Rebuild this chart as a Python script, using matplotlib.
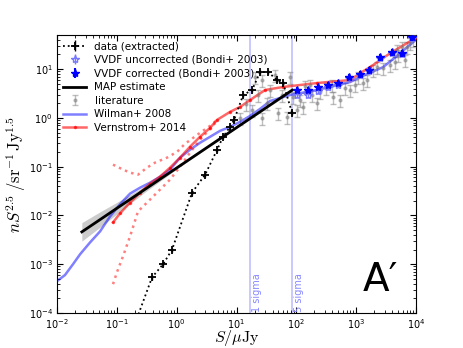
import matplotlib
matplotlib.use("Agg")
import matplotlib.pyplot as plt
import numpy as np

# ---------------- data ----------------
data_x = [0.19, 0.388, 0.593, 0.838, 1.81, 2.99, 4.74, 5.97, 7.82, 9.12, 12.9, 18.2, 24.8, 33.7, 47.7, 60.1, 85.1]
data_y = [5.0e-5, 5.4e-4, 1.0e-3, 2.0e-3, 0.0294, 0.0687, 0.222, 0.41, 0.655, 0.91, 2.94, 3.73, 8.7, 8.7, 5.97, 5.18, 1.26]

vvdf_x = [103, 157, 232, 340, 500, 764, 1167, 1648, 2518, 3998, 5875, 8630]
vvdf_corr = [3.73, 3.73, 4.30, 4.71, 5.18, 6.87, 7.91, 9.54, 17.6, 22.2, 21.2, 45.0]
vvdf_unc = [2.95, 2.95, 3.5, 4.2, 4.8, 6.5, 7.6, 9.2, 17.0, 21.5, 20.0, 43.0]

map_x = [0.026, 85.0]
map_y = [0.0046, 3.7]
band_x = [0.026, 0.05, 0.1, 0.3, 1.0, 3.0, 10.0, 85.0]
band_lo = [0.00297, 0.00548, 0.01067, 0.0305, 0.0888, 0.2259, 0.614, 3.45]
band_hi = [0.00712, 0.01145, 0.01855, 0.0402, 0.1019, 0.2476, 0.673, 3.96]

lit_x = [11.5, 14.5, 18.2, 20.5, 23, 26.8, 26.8, 32.5, 36.5, 44.2, 49.6, 57.9, 70.2, 78.8, 88.3,
         103, 116, 130, 140, 170, 184, 223, 250, 315, 397, 412, 540, 655, 794, 962, 1080, 1310,
         1527, 1923, 2244, 2830, 3706, 4490, 4853, 5040, 5875, 6590, 7130, 8000, 8970]
lit_y = [1.0, 1.93, 1.46, 6.9, 2.9, 6.0, 1.0, 2.0, 3.7, 7.5, 1.26, 2.9, 1.05, 6.9, 2.7,
         1.46, 2.33, 1.68, 4.5, 4.7, 2.9, 2.0, 3.4, 4.1, 4.7, 2.7, 2.33, 4.1, 3.7, 4.7, 6.9, 5.2,
         6.0, 9.5, 11.0, 10.5, 12.1, 13.9, 24.4, 19.3, 28.1, 15.3, 28.0, 34.0, 39.0]

wil_x = [0.01, 0.0136, 0.0185, 0.0243, 0.0357, 0.0524, 0.0769, 0.113, 0.166, 0.244, 0.359, 0.527,
         0.776, 1.14, 1.67, 2.46, 3.62, 5.32, 7.82, 11.5, 16.9, 24.8, 36.5, 78.8, 223, 794, 1167,
         2831, 5450, 9710]
wil_y = [4.5e-4, 6.0e-4, 1.0e-3, 1.6e-3, 2.8e-3, 4.7e-3, 9.5e-3, 0.017, 0.028, 0.037, 0.047, 0.062,
         0.087, 0.153, 0.222, 0.309, 0.41, 0.543, 0.655, 0.83, 1.1, 1.53, 2.22, 2.95, 3.73, 5.43, 6.87,
         11.0, 21.2, 39.0]

ver_x = [0.0863, 0.113, 0.166, 0.244, 0.359, 0.527, 0.776, 1.14, 1.67, 2.46, 3.62, 4.74, 7.82, 11.5,
         16.9, 30.1, 60.1, 223, 794, 1167, 1714, 3706, 9710]
ver_y = [0.0072, 0.011, 0.0184, 0.0294, 0.045, 0.0625, 0.0955, 0.153, 0.256, 0.41, 0.625, 0.91, 1.33,
         1.68, 2.33, 3.73, 4.3, 5.18, 5.97, 8.3, 11.0, 21.2, 43.0]
ver_up_x = [0.0863, 0.127, 0.166, 0.226, 0.32, 0.435, 0.69, 1.02, 1.38, 2.46, 3.62, 4.74]
ver_up_y = [0.11, 0.087, 0.0755, 0.0687, 0.0955, 0.121, 0.153, 0.202, 0.294, 0.494, 0.687, 0.91]
ver_lo_x = [0.0863, 0.1007, 0.127, 0.166, 0.226, 0.32, 0.47, 0.776, 1.14, 1.67, 2.46, 3.62, 4.74]
ver_lo_y = [3.9e-4, 6.9e-4, 1.46e-3, 3.7e-3, 0.0121, 0.0184, 0.0294, 0.0543, 0.1, 0.193, 0.356, 0.597, 0.87]

sigma_lines = [17.0, 85.0]
sigma_labels = ["1 sigma", "5 sigma"]

# ---------------- plot ----------------
fig = plt.figure(figsize=(4.63, 3.48), dpi=100)
ax = fig.add_axes([57 / 463, 1 - 313 / 348, 359 / 463, 278 / 348])

for xv, lab in zip(sigma_lines, sigma_labels):
    ax.axvline(xv, color="blue", alpha=0.25, lw=1.2, zorder=1)
    ax.text(xv * 1.06, 1.05e-4, lab, rotation=90, color="#8888ff",
            fontsize=7, va="bottom", ha="left")

ax.fill_between(band_x, band_lo, band_hi, color="gray", alpha=0.4, lw=0, zorder=2)

data_y_arr = np.array(data_y)
h_data = ax.errorbar(data_x, data_y, yerr=0.1 * data_y_arr, fmt="k:+", ms=6, mew=1.3, lw=1.3,
                     elinewidth=1, label="data (extracted)", zorder=6)
h_unc = ax.errorbar(vvdf_x, vvdf_unc, yerr=0.12 * np.array(vvdf_unc), fmt="*", color="#7777ff",
                    mfc="none", ms=6, elinewidth=1, label="VVDF uncorrected (Bondi+ 2003)", zorder=5)
vc = np.array(vvdf_corr)
h_cor = ax.errorbar(vvdf_x, vvdf_corr, yerr=0.15 * vc, fmt="*", color="blue", ms=6,
                    elinewidth=1.5, label="VVDF corrected (Bondi+ 2003)", zorder=6)
h_map, = ax.plot(map_x, map_y, color="black", lw=2, label="MAP estimate", zorder=4)
ly = np.array(lit_y)
h_lit = ax.errorbar(lit_x, lit_y, yerr=0.28 * ly, fmt=".", color="gray", alpha=0.5, ms=4,
                    capsize=2, elinewidth=1, label="literature", zorder=3)
h_wil, = ax.plot(wil_x, wil_y, color="blue", alpha=0.5, lw=1.8, label="Wilman+ 2008", zorder=3)
h_ver, = ax.plot(ver_x, ver_y, color="red", alpha=0.6, lw=1.8, marker=".", ms=3,
                 label="Vernstrom+ 2014", zorder=3)
ax.plot(ver_up_x, ver_up_y, color="red", alpha=0.5, lw=1.8, ls=":", zorder=3)
ax.plot(ver_lo_x, ver_lo_y, color="red", alpha=0.5, lw=1.8, ls=":", zorder=3)

ax.set_xscale("log")
ax.set_yscale("log")
ax.set_xlim(1e-2, 1e4)
ax.set_ylim(1e-4, 50)

ax.tick_params(which="both", direction="in", top=True, right=True, labelsize=7)
ax.tick_params(which="major", length=4, pad=3)
ax.tick_params(which="minor", length=2)

ax.set_xlabel(r"$S/\mu\mathrm{Jy}$", fontsize=11.5, math_fontfamily="cm")
ax.xaxis.set_label_coords(0.5, -0.1255)
ax.xaxis.label.set_va("bottom")
ax.set_ylabel(r"$nS^{2.5}\;/\mathrm{sr}^{-1}\,\mathrm{Jy}^{1.5}$", fontsize=12,
              math_fontfamily="cm")
ax.yaxis.set_label_coords(-0.082, 0.5)

ax.text(0.90, 0.05, "A′", transform=ax.transAxes, fontsize=28, ha="center", va="bottom")

handles = [h_data, h_unc, h_cor, h_map, h_lit, h_wil, h_ver]
labels = [h.get_label() for h in handles]
ax.legend(handles, labels, loc="upper left", frameon=False, fontsize=7.5, handlelength=2.2,
          labelspacing=0.35, borderaxespad=0.2, handletextpad=0.8, numpoints=1)

fig.savefig("out.png", dpi=100)
